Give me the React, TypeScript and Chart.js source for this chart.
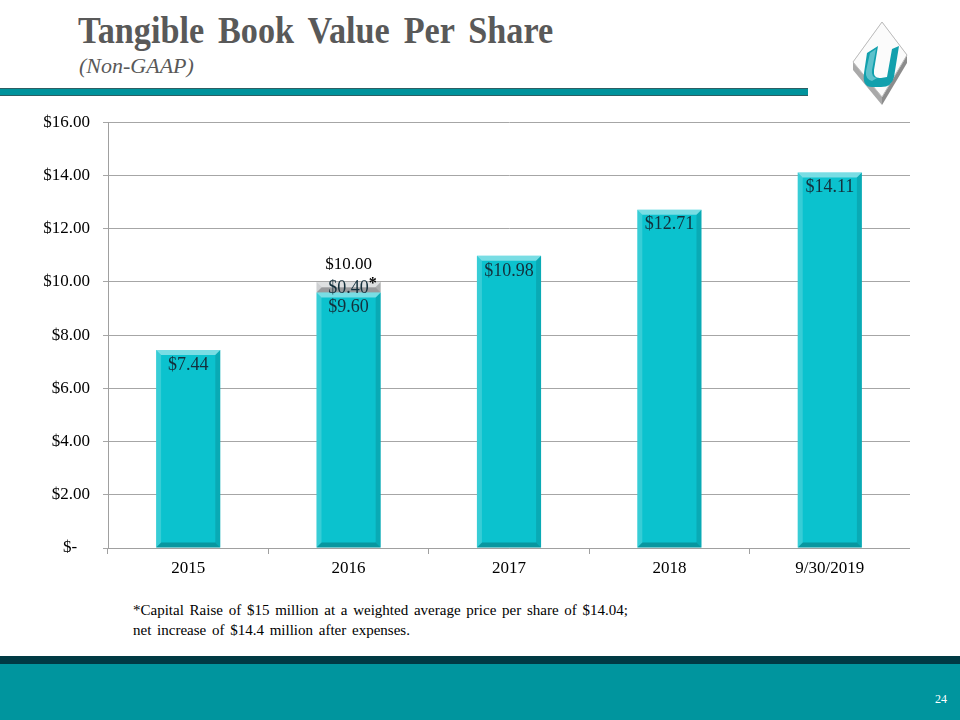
import React, { useEffect, useRef } from "react";
import { Chart, registerables } from "chart.js";

Chart.register(...registerables);

const categories = ["2015", "2016", "2017", "2018", "9/30/2019"];
const baseValues = [7.44, 9.6, 10.98, 12.71, 14.11];
const raiseValues = [0, 0.4, 0, 0, 0];
const totalLabelIndex = 1;
const yTicks = [0, 2, 4, 6, 8, 10, 12, 14, 16];

const fmt = (v: number) => (v === 0 ? "$-" : "$" + v.toFixed(2));
const SERIF = "'Liberation Serif', 'Times New Roman', serif";

const bevelPlugin = {
  id: "bevel",
  afterDatasetsDraw(chart: any) {
    const ctx = chart.ctx;
    chart.data.datasets.forEach((ds: any, di: number) => {
      const meta = chart.getDatasetMeta(di);
      meta.data.forEach((el: any, i: number) => {
        const v = ds.data[i];
        if (!v) return;
        const { x, y, base, width } = el.getProps(["x", "y", "base", "width"], true);
        const l = x - width / 2, r = x + width / 2, t = Math.min(y, base), bo = Math.max(y, base);
        const b = Math.min(5, (bo - t) / 2);
        ctx.save();
        const poly = (pts: number[][], fill: string) => {
          ctx.beginPath();
          ctx.moveTo(pts[0][0], pts[0][1]);
          for (let k = 1; k < pts.length; k++) ctx.lineTo(pts[k][0], pts[k][1]);
          ctx.closePath();
          ctx.fillStyle = fill;
          ctx.fill();
        };
        poly([[l, t], [r, t], [r - b, t + b], [l + b, t + b]], "rgba(255,255,255,0.45)");
        poly([[l, t], [l + b, t + b], [l + b, bo - b], [l, bo]], "rgba(255,255,255,0.18)");
        poly([[r, t], [r, bo], [r - b, bo - b], [r - b, t + b]], "rgba(0,0,0,0.12)");
        poly([[l, bo], [l + b, bo - b], [r - b, bo - b], [r, bo]], "rgba(0,0,0,0.22)");
        ctx.restore();
      });
    });
  },
};

const labelPlugin = {
  id: "barLabels",
  afterDatasetsDraw(chart: any) {
    const ctx = chart.ctx;
    ctx.save();
    ctx.textAlign = "center";
    ctx.textBaseline = "middle";
    const m0 = chart.getDatasetMeta(0);
    const m1 = chart.getDatasetMeta(1);
    const f = "18px " + SERIF;
    ctx.font = f;
    m0.data.forEach((el: any, i: number) => {
      ctx.fillStyle = "#14303c";
      ctx.fillText(fmt(baseValues[i]), el.x, el.y + 15);
    });
    m1.data.forEach((el: any, i: number) => {
      const v = raiseValues[i];
      if (!v) return;
      const { y, base } = el.getProps(["y", "base"], true);
      const cy = (y + base) / 2 + 1;
      const txt = fmt(v);
      ctx.fillStyle = "#14303c";
      ctx.fillText(txt, el.x, cy);
      const w = ctx.measureText(txt).width;
      ctx.fillStyle = "#000";
      ctx.font = "bold 16px " + SERIF;
      ctx.textAlign = "left";
      ctx.fillText("*", el.x + w / 2, cy - 4);
      ctx.textAlign = "center";
      ctx.font = f;
    });
    const el = m1.data[totalLabelIndex];
    const tot = baseValues[totalLabelIndex] + raiseValues[totalLabelIndex];
    ctx.fillStyle = "#000";
    ctx.font = "17px " + SERIF;
    ctx.fillText(fmt(tot), el.x, el.y - 17);
    ctx.restore();
  },
};

function Logo() {
  return (
    <svg width={70} height={100} viewBox="0 0 70 100" style={{ position: "absolute", left: 845, top: 15 }}>
      <polygon points="8,47 37,7 62,40 37,82 37,90 8,55" fill="#a9a9a9" />
      <polygon points="62,40 62,48 37,90 37,82" fill="#8c8c8c" />
      <polygon points="8,47 37,7 62,40 37,82" fill="#fbfbfb" stroke="#bdbdbd" strokeWidth={1} />
      <path d="M22,38 L33,31 L29,55 Q28,64 36,63 L42,62 L47,34 L54,31 L49,62 Q47,72 36,72 L27,72 Q17,72 19,58 Z" fill="#12a0ad" />
      <path d="M25,38 L31,34 L27,55 Q26,62 32,63 L27,66 Q20,64 21,56 Z" fill="#7fd0d8" opacity={0.7} />
    </svg>
  );
}

export default function App() {
  const ref = useRef<HTMLCanvasElement>(null);
  useEffect(() => {
    if (!ref.current) return;
    const chart = new Chart(ref.current, {
      type: "bar",
      data: {
        labels: categories,
        datasets: [
          {
            label: "Tangible Book Value",
            data: baseValues,
            backgroundColor: "#0bc2ce",
            borderWidth: 0,
            barPercentage: 0.4,
            categoryPercentage: 1,
            stack: "s",
          },
          {
            label: "Capital Raise",
            data: raiseValues,
            backgroundColor: "#c4c6c8",
            borderWidth: 0,
            barPercentage: 0.4,
            categoryPercentage: 1,
            stack: "s",
          },
        ],
      },
      options: {
        animation: false,
        responsive: false,
        maintainAspectRatio: false,
        layout: { padding: { top: 1, right: 0, left: 0, bottom: 0 } },
        plugins: { legend: { display: false }, tooltip: { enabled: false }, title: { display: false } },
        scales: {
          x: {
            stacked: true,
            grid: { display: true, drawOnChartArea: false, drawTicks: true, tickLength: 6, color: "#a0a0a0", offset: true },
            border: { display: true, color: "#a0a0a0" },
            ticks: {
              color: "#000",
              font: { family: SERIF, size: 17 },
              padding: 4,
            },
            afterFit: (s: any) => { s.height = 42; },
          },
          y: {
            stacked: true,
            min: 0,
            max: 16,
            afterBuildTicks: (s: any) => { s.ticks = yTicks.map((v) => ({ value: v })); },
            grid: { color: "#a6a6a6", tickLength: 5, drawTicks: true },
            border: { display: true, color: "#a0a0a0" },
            ticks: {
              color: "#000",
              font: { family: SERIF, size: 17 },
              padding: 13,
              callback: (v: any) => (Number(v) === 0 ? "$-   " : fmt(Number(v))),
            },
            afterFit: (s: any) => { s.width = 88; },
          },
        },
      },
      plugins: [bevelPlugin, labelPlugin],
    });
    return () => chart.destroy();
  }, []);

  return (
    <div style={{ position: "absolute", left: 0, top: 0, width: 960, height: 720, overflow: "hidden", background: "#fff", fontFamily: SERIF }}>
      <div style={{ position: "absolute", left: 78, top: 8, fontSize: 38, fontWeight: "bold", color: "#595959", whiteSpace: "nowrap", wordSpacing: 6, transform: "scaleX(0.9)", transformOrigin: "0 0", lineHeight: "44px" }}>
        Tangible Book Value Per Share
      </div>
      <div style={{ position: "absolute", left: 79, top: 52, fontSize: 22, fontStyle: "italic", color: "#595959", whiteSpace: "nowrap", lineHeight: "28px" }}>
        (Non-GAAP)
      </div>
      <div style={{ position: "absolute", left: 0, top: 88, width: 808, height: 8, background: "#00939c", borderTop: "1px solid #2d5e63", borderBottom: "1px solid #2d5e63", boxSizing: "border-box" }} />
      <Logo />
      <canvas ref={ref} width={890} height={491} style={{ position: "absolute", left: 20, top: 99 }} />
      <div style={{ position: "absolute", left: 133, top: 600, fontSize: 15, lineHeight: "20px", color: "#000", whiteSpace: "nowrap", wordSpacing: 2 }}>
        *Capital Raise of $15 million at a weighted average price per share of $14.04;
        <br />
        net increase of $14.4 million after expenses.
      </div>
      <div style={{ position: "absolute", left: 0, top: 656, width: 960, height: 8, background: "#003a44" }} />
      <div style={{ position: "absolute", left: 0, top: 664, width: 960, height: 56, background: "#00959e" }} />
      <div style={{ position: "absolute", left: 935, top: 692, fontSize: 12, color: "#fff" }}>24</div>
    </div>
  );
}
